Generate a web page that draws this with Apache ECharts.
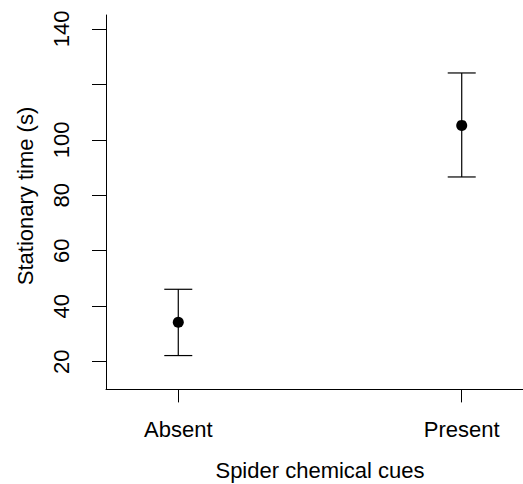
<!DOCTYPE html>
<html>
<head>
<meta charset="utf-8">
<script src="https://cdn.jsdelivr.net/npm/echarts@6/dist/echarts.min.js"></script>
<style>
html,body{margin:0;padding:0;background:#fff;}
#chart{width:523px;height:484px;}
</style>
</head>
<body>
<div id="chart"></div>
<script>
const categories = ['Absent', 'Present'];
const means = [34.2, 105.2];
const upper = [46.1, 124.1];
const lower = [22.2, 86.6];
const yTicks = [20, 40, 60, 80, 100, 120, 140];
const yLabels = [20, 40, 60, 80, 100, 140];
const xTitle = 'Spider chemical cues';
const yTitle = 'Stationary time (s)';

const xPos = categories.map((c, i) => i + 1);
const FONT = '"Liberation Sans", Arial, sans-serif';

const chart = echarts.init(document.getElementById('chart'), null, {renderer: 'svg'});
const option = {
  animation: false,
  backgroundColor: '#ffffff',
  grid: {left: 106, top: 15, width: 428, bottom: 94.6, containLabel: false, outerBoundsMode: 'none'},
  xAxis: {
    type: 'value', min: 0.745, max: 2.255,
    splitLine: {show: false},
    axisLine: {show: true, lineStyle: {color: '#000', width: 1}},
    axisTick: {show: true, customValues: xPos, length: 13, lineStyle: {color: '#000', width: 1}},
    axisLabel: {show: true, customValues: xPos, margin: 29, color: '#000', fontSize: 22, fontFamily: FONT,
      formatter: v => categories[Math.round(v) - 1] || ''},
    name: xTitle, nameLocation: 'middle', nameGap: 70,
    nameTextStyle: {color: '#000', fontSize: 22, fontFamily: FONT}
  },
  yAxis: {
    type: 'value', min: 10, max: 145,
    splitLine: {show: false},
    axisLine: {show: true, lineStyle: {color: '#000', width: 1}},
    axisTick: {show: true, customValues: yTicks, length: 14, lineStyle: {color: '#000', width: 1}},
    axisLabel: {show: true, customValues: yLabels, rotate: 90, margin: 34, color: '#000', fontSize: 22, fontFamily: FONT},
  },
  graphic: [{
    type: 'text', x: 25, y: 196, rotation: Math.PI / 2,
    style: {text: yTitle, fill: '#000', fontSize: 22, fontFamily: FONT, align: 'center', verticalAlign: 'middle'}
  }],
  series: [
    {
      type: 'custom',
      data: xPos.map((x, i) => [x, lower[i], upper[i]]),
      renderItem: function (params, api) {
        const x = api.value(0);
        const lo = api.coord([x, api.value(1)]);
        const hi = api.coord([x, api.value(2)]);
        const hw = 14;
        const st = {stroke: '#000', lineWidth: 1.2};
        return {
          type: 'group',
          children: [
            {type: 'line', shape: {x1: lo[0], y1: lo[1], x2: hi[0], y2: hi[1]}, style: st},
            {type: 'line', shape: {x1: hi[0] - hw, y1: hi[1], x2: hi[0] + hw, y2: hi[1]}, style: st},
            {type: 'line', shape: {x1: lo[0] - hw, y1: lo[1], x2: lo[0] + hw, y2: lo[1]}, style: st}
          ]
        };
      },
      z: 2
    },
    {
      type: 'scatter',
      data: xPos.map((x, i) => [x, means[i]]),
      symbol: 'circle', symbolSize: 11,
      itemStyle: {color: '#000', opacity: 1},
      emphasis: {disabled: true},
      z: 3
    }
  ]
};
chart.setOption(option);
</script>
</body>
</html>
